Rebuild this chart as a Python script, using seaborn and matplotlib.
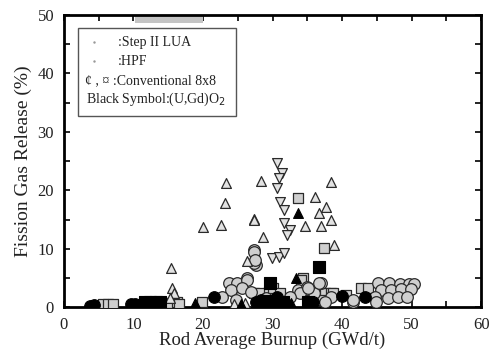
import numpy as np
import pandas as pd
import matplotlib
matplotlib.use("Agg")
import matplotlib.pyplot as plt
import seaborn as sns
from matplotlib.patches import Rectangle

# ---- data ----
lua_x = [23.3, 28.3, 23.1, 27.3, 20.0, 22.6, 28.6, 26.4, 15.4, 15.5, 15.8, 15.2, 26.0,
         38.4, 36.1, 37.7, 36.7, 38.4, 34.6, 37.0, 27.3, 38.9, 24.5]
lua_y = [21.2, 21.6, 17.8, 15.1, 13.7, 14.0, 12.0, 7.9, 6.7, 3.3, 2.4, 1.6, 0.7,
         21.4, 18.8, 17.1, 16.1, 14.9, 13.9, 13.9, 14.9, 10.6, 0.6]

hpf_x = [30.7, 31.3, 31.0, 30.6, 31.1, 31.6, 31.7, 32.5, 32.1, 29.9, 30.9, 31.7]
hpf_y = [24.6, 22.9, 22.1, 20.4, 18.0, 16.6, 14.4, 13.2, 12.3, 8.4, 8.6, 9.2]

conv_sq_x = [5.6, 6.4, 7.0, 14.0, 15.0, 16.2, 16.6, 19.9, 33.7, 37.4, 34.4, 29.4, 34.1,
             37.6, 38.4, 35.5, 36.8, 27.3, 28.0, 30.1, 31.1, 38.7, 42.7, 43.7, 40.5]
conv_sq_y = [0.5, 0.6, 0.5, 0.6, 0.7, 0.8, 0.6, 0.9, 18.7, 10.1, 5.0, 2.4, 4.6,
             2.4, 2.4, 1.2, 1.2, 2.4, 2.4, 3.2, 2.4, 2.4, 3.2, 3.2, 2.0]

conv_ci_x = [27.4, 27.6, 26.4, 27.3, 27.3, 24.6, 23.7, 24.9, 26.3, 24.1, 25.6, 26.9, 22.7,
             24.7, 33.7, 34.9, 36.9, 35.9, 27.5, 36.7, 31.9, 34.0, 35.1, 38.4, 37.6,
             41.6, 45.1, 46.7, 48.3, 49.6, 50.4, 45.6, 47.0, 48.5, 49.9, 44.7, 46.6,
             48.0, 49.4, 44.9, 41.6, 29.0, 32.5]
conv_ci_y = [9.8, 7.2, 5.0, 9.4, 7.5, 3.4, 4.1, 4.1, 4.6, 2.9, 3.2, 2.6, 1.7,
             1.2, 2.9, 3.4, 4.1, 2.4, 8.0, 4.1, 0.7, 2.4, 3.2, 1.7, 0.9,
             0.9, 4.1, 4.1, 3.9, 3.9, 3.9, 2.9, 2.9, 3.1, 3.1, 1.7, 1.5,
             1.7, 1.7, 0.9, 1.2, 1.5, 1.8]

gd_ci_x = [3.7, 4.3, 9.7, 10.3, 21.6, 27.6, 28.3, 28.5, 29.4, 30.6, 31.1, 29.9, 30.2, 32.0,
           40.0, 43.3, 13.0, 35.8]
gd_ci_y = [0.2, 0.3, 0.6, 0.5, 1.7, 0.9, 1.2, 0.7, 0.9, 1.7, 0.7, 0.5, 1.0, 0.6,
           1.9, 1.7, 0.6, 0.9]

gd_sq_x = [11.6, 12.4, 13.2, 13.8, 36.7, 29.6, 35.1, 29.0, 31.5]
gd_sq_y = [0.8, 0.9, 0.8, 0.9, 6.9, 4.1, 0.9, 1.0, 0.8]

gd_tri_x = [33.7, 33.4, 18.9, 25.5, 32.6]
gd_tri_y = [16.1, 5.0, 0.7, 0.5, 0.7]

x_ticks = [0, 10, 20, 30, 40, 50, 60]
y_ticks = [0, 10, 20, 30, 40, 50]

# ---- style ----
sns.set_theme(style="ticks")
plt.rcParams['font.family'] = ['Liberation Serif', 'DejaVu Serif']

fig = plt.figure(figsize=(4.91, 3.51), dpi=100)
ax = fig.add_axes([0.130, 0.125, 0.850, 0.832])

edge = "#2a2a2a"
gray = "#cfcfcf"

sns.scatterplot(x=conv_sq_x, y=conv_sq_y, marker="s", s=55, color=gray,
                edgecolor=edge, linewidth=0.9, ax=ax, zorder=3)
sns.scatterplot(x=conv_ci_x, y=conv_ci_y, marker="o", s=70, color=gray,
                edgecolor=edge, linewidth=0.9, ax=ax, zorder=3)
sns.scatterplot(x=lua_x, y=lua_y, marker="^", s=50, color="#e2e2e2",
                edgecolor=edge, linewidth=0.9, ax=ax, zorder=4)
sns.scatterplot(x=hpf_x, y=hpf_y, marker="v", s=50, color="#e2e2e2",
                edgecolor=edge, linewidth=0.9, ax=ax, zorder=4)
sns.scatterplot(x=gd_ci_x, y=gd_ci_y, marker="o", s=70, color="black",
                edgecolor="black", linewidth=0.8, ax=ax, zorder=5)
sns.scatterplot(x=gd_sq_x, y=gd_sq_y, marker="s", s=80, color="black",
                edgecolor="black", linewidth=0.8, ax=ax, zorder=5)
sns.scatterplot(x=gd_tri_x, y=gd_tri_y, marker="^", s=50, color="black",
                edgecolor="black", linewidth=0.8, ax=ax, zorder=5)

ax.set_xlim(0, 60)
ax.set_ylim(0, 50)
ax.set_xticks(x_ticks)
ax.set_yticks(y_ticks)
ax.set_xticks(np.arange(5, 60, 10), minor=True)
ax.set_yticks(np.arange(5, 50, 10), minor=True)
ax.tick_params(which="both", direction="in", top=True, right=True,
               length=4, width=1.2, color="black", labelsize=12,
               labelcolor="#222222")
ax.tick_params(axis="x", which="major", pad=7)
ax.tick_params(axis="y", which="major", pad=7)
for sp in ax.spines.values():
    sp.set_linewidth(2.0)
    sp.set_color("black")

ax.set_xlabel("Rod Average Burnup (GWd/t)", fontsize=13.5, color="#222222", labelpad=-1)
ax.set_ylabel("Fission Gas Release (%)", fontsize=14, color="#222222", labelpad=4)

# legend box (hand-drawn in the original)
ax.add_patch(Rectangle((0.035, 0.655), 0.378, 0.3, transform=ax.transAxes,
                       fill=False, edgecolor="#555555", linewidth=1.0, zorder=6))
tkw = dict(transform=ax.transAxes, fontsize=10, color="#222222", va="center", zorder=7)
ax.text(0.129, 0.907, ":Step II LUA", **tkw)
ax.text(0.129, 0.842, ":HPF", **tkw)
ax.text(0.050, 0.774, "\u00a2 , \u00a4 :Conventional 8x8", **tkw)
ax.text(0.052, 0.712, "Black Symbol:(U,Gd)O$_2$", **tkw)
ax.plot([0.072, 0.072], [0.907, 0.842], ls="none", marker=".", ms=1.5,
        color="#999999", transform=ax.transAxes)

# scan artifact shading just under the top frame
ax.add_patch(Rectangle((0.170, 0.972), 0.163, 0.028, transform=ax.transAxes,
                       facecolor="#c4c4c4", edgecolor="none", zorder=1))

fig.savefig("out.png", dpi=100)
